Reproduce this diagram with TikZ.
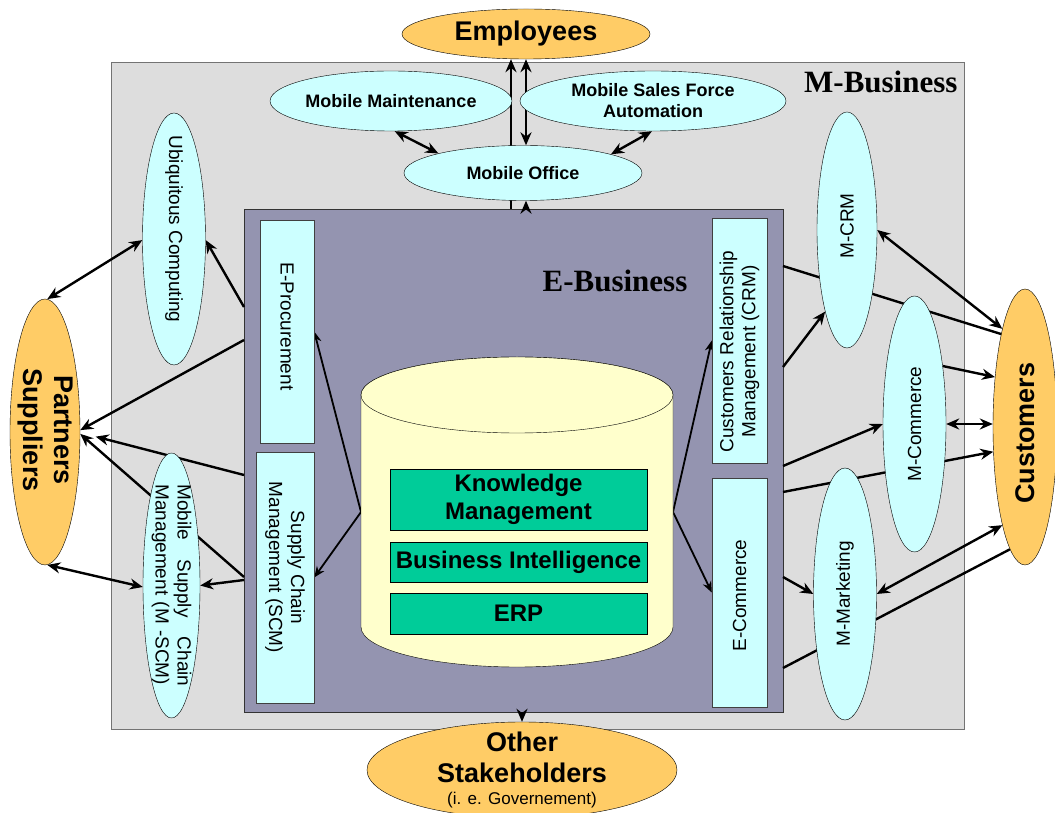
\documentclass[tikz,border=0pt]{standalone}
\usepackage{fontspec}
\setmainfont{Liberation Sans}
\newfontfamily\timesfont{Liberation Serif}
\usepackage{tikz}
\usetikzlibrary{arrows.meta, shapes.geometric}

\definecolor{mbizGray}{RGB}{221, 221, 221}
\definecolor{ebizPurple}{RGB}{148, 148, 176}
\definecolor{mobCyan}{RGB}{204, 255, 255}
\definecolor{stakeOrange}{RGB}{255, 204, 102}
\definecolor{dbYellow}{RGB}{255, 255, 204}
\definecolor{coreGreen}{RGB}{0, 204, 153}

\newcommand{\sidefont}{\fontsize{19}{22}\selectfont}
\newcommand{\mobfont}{\fontsize{18}{21}\selectfont\bfseries}
\newcommand{\stakefont}{\fontsize{27}{31}\selectfont\bfseries}
\newcommand{\govfont}{\fontsize{17}{17}\selectfont\mdseries}
\newcommand{\corefont}{\fontsize{24}{28}\selectfont\bfseries}
\newcommand{\areafont}{\timesfont\fontsize{31}{34}\selectfont\bfseries}

\pgfdeclarelayer{areas}
\pgfdeclarelayer{links}
\pgfsetlayers{areas,links,main}

\begin{document}
\begin{tikzpicture}[
    x=1pt, y=1pt,
    >={Stealth[length=13pt, width=11pt]},
    area/.style={rectangle, inner sep=0pt},
    mob/.style={ellipse, draw, fill=mobCyan, inner sep=0pt},
    stake/.style={ellipse, draw, fill=stakeOrange, inner sep=0pt},
    app/.style={rectangle, draw=black!75, fill=mobCyan, inner sep=0pt},
    core/.style={rectangle, draw, fill=coreGreen, inner sep=0pt,
                 minimum width=257pt, font=\corefont, align=center},
    vlab/.style n args={3}{label={[yshift=#1, rotate=-90, align=center, font=#2]center:#3}},
    ulab/.style n args={3}{label={[yshift=#1, rotate=90, align=center, font=#2]center:#3}},
    link/.style={line width=2.4pt, ->},
    dlink/.style={line width=2.4pt, <->},
    wire/.style={line width=2.4pt},
    feed/.style={line width=1.8pt, -{Stealth[length=11pt, width=9pt]}},
  ]
  \useasboundingbox (0,0) rectangle (1055,812);

  % areas
  \begin{pgfonlayer}{areas}
    \node[area, draw=black!55, fill=mbizGray, minimum width=853pt,
          minimum height=667pt] (mbiz) at (537.5,416.5) {};
    \node[area, draw=black!80, fill=ebizPurple, minimum width=539pt,
          minimum height=503pt] (ebiz) at (513.5,351.5) {};
  \end{pgfonlayer}
  \node[font=\areafont, anchor=east] (mbizlab) at (961,730) {M-Business};
  \node[font=\areafont] (ebizlab) at (615,531) {E-Business};

  % data base
  \draw[fill=dbYellow] (361,417) -- (361,185)
    arc[start angle=180, end angle=360, x radius=156, y radius=40]
    -- (673,417) arc[start angle=0, end angle=180, x radius=156, y radius=38]
    -- cycle;
  \draw[fill=dbYellow] (517,417) ellipse [x radius=156, y radius=38];
  \coordinate (cylL) at (361,300);
  \coordinate (cylR) at (673,300);
  \node[core, minimum height=61pt] (km) at (518.5,312.5) {Knowledge\\Management};
  \node[core, minimum height=40pt] (bi) at (518.5,250) {Business Intelligence};
  \node[core, minimum height=41pt] (erp) at (518.5,198.5) {ERP};

  % stakeholders
  \node[stake, minimum width=248pt, minimum height=50pt, font=\stakefont]
       (employees) at (526,778) {Employees};
  \node[stake, minimum width=310pt, minimum height=96pt,
        label={[align=center, font=\stakefont]center:Other\\Stakeholders\\[-9pt]{\govfont (i. e. Governement)}}]
       (others) at (522,42) {};
  \node[stake, minimum width=70pt, minimum height=266pt,
        vlab={2pt}{\stakefont}{Partners\\Suppliers}] (partners) at (45,380) {};
  \node[stake, minimum width=64pt, minimum height=276pt,
        ulab={-6pt}{\stakefont}{Customers}] (customers) at (1025,385) {};

  % mobile applications
  \node[mob, minimum width=240pt, minimum height=60pt, font=\mobfont]
       (mmaint) at (391,711) {Mobile Maintenance};
  \node[mob, minimum width=266pt, minimum height=60pt, font=\mobfont, align=center]
       (msfa) at (653,711) {Mobile Sales Force\\Automation};
  \node[mob, minimum width=238pt, minimum height=55pt, font=\mobfont]
       (moffice) at (523,639) {Mobile Office};
  \node[mob, minimum width=63pt, minimum height=252pt,
        vlab={10pt}{\sidefont}{Ubiquitous Computing}] (ubiq) at (174,573) {};
  \node[mob, minimum width=57pt, minimum height=265pt,
        label={[rotate=-90, text width=202pt, align=left, font=\sidefont]center:Mobile\hfill Supply\hfill Chain\\Management (M -SCM)}]
       (mscm) at (171.5,226.5) {};
  \node[mob, minimum width=60pt, minimum height=236pt,
        ulab={4pt}{\sidefont}{M-CRM}] (mcrm) at (847,582) {};
  \node[mob, minimum width=63pt, minimum height=256pt,
        ulab={0pt}{\sidefont}{M-Commerce}] (mcom) at (914.5,388) {};
  \node[mob, minimum width=63pt, minimum height=252pt,
        ulab={0pt}{\sidefont}{M-Marketing}] (mmkt) at (845,218) {};

  % e-business applications
  \node[app, minimum width=54pt, minimum height=223pt,
        vlab={5pt}{\sidefont}{E-Procurement}] (eproc) at (287,480.5) {};
  \node[app, minimum width=58pt, minimum height=251pt,
        vlab={10pt}{\sidefont}{Supply Chain\\Management (SCM)}] (scm) at (285,234.5) {};
  \node[app, minimum width=55pt, minimum height=245pt,
        ulab={-11pt}{\sidefont}{Customers Relationship\\Management (CRM)}] (crm) at (739.5,471.5) {};
  \node[app, minimum width=55pt, minimum height=229pt,
        ulab={-3pt}{\sidefont}{E-Commerce}] (ecom) at (739.5,219.5) {};

  % border points of the E-Business area
  \coordinate (eb1) at (511,603);
  \coordinate (eb2) at (526,603);
  \coordinate (ebb) at (522,100);
  \coordinate (ebl1) at (244,505);
  \coordinate (ebl2) at (244,472);
  \coordinate (ebl3) at (244,337);
  \coordinate (ebl4) at (244,235);
  \coordinate (ebl5) at (244,232);
  \coordinate (ebr1) at (783,445);
  \coordinate (ebr2) at (783,546);
  \coordinate (ebr3) at (783,320);
  \coordinate (ebr4) at (783,346);
  \coordinate (ebr5) at (783,235);
  \coordinate (ebr6) at (783,144);
  \coordinate (cuend) at (1017,473);

  \begin{pgfonlayer}{links}
    % top
    \draw[dlink] (mmaint.-83) -- (moffice.167);
    \draw[dlink] (msfa.-92) -- (moffice.12);
    \draw[link] (eb1) -- (eb1 |- employees.south);
    \draw[dlink] (moffice.north -| eb2) -- (employees.south -| eb2);
    \draw[link] (eb2) -- (moffice.south -| eb2);
    % left
    \draw[dlink] (partners.89) -- (ubiq.182);
    \draw[link] (ebl1) -- (ubiq.-2);
    \draw[link] (ebl2) -- (partners.3);
    \draw[link, shorten >=16pt] (ebl3) -- (partners.-1);
    \draw[link] (ebl4) -- (partners.-3);
    \draw[link] (ebl5) -- (mscm.east);
    \draw[dlink] (partners.-89) -- (mscm.183);
    % data base
    \draw[feed] (cylL) -- (eproc.east);
    \draw[feed] (cylL) -- (scm.east);
    \draw[feed] (cylR) -- (crm.west);
    \draw[feed] (cylR) -- (ecom.west);
    % right
    \draw[link] (ebr1) -- (mcrm.255);
    \draw[wire] (ebr2) -- (cuend);
    \draw[dlink] (mcrm.east) -- (customers.103);
    \draw[link] (mcom.64) -- (customers.121);
    \draw[dlink] (mcom.east) -- (mcom.east -| customers.west);
    \draw[link] (ebr3) -- (customers.218);
    \draw[link] (ebr4) -- (mcom.west);
    \draw[link] (ebr5) -- (mmkt.west);
    \draw[dlink] (customers.257) -- (mmkt.east);
    \draw[wire] (ebr6) -- (customers.263);
    % bottom
    \draw[link] (ebb) -- (others.north);
  \end{pgfonlayer}
\end{tikzpicture}
\end{document}
